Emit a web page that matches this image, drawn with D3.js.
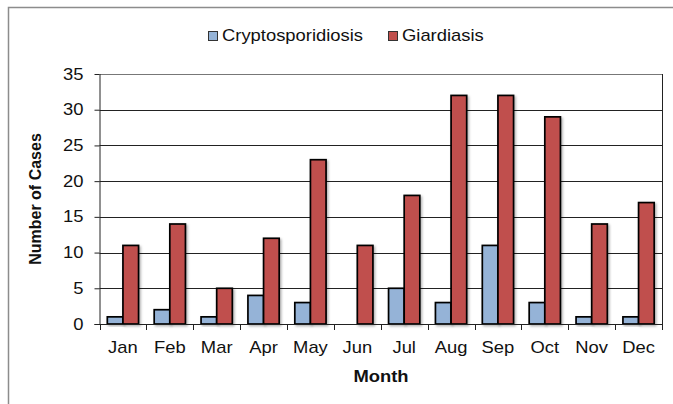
<!DOCTYPE html>
<html><head><meta charset="utf-8">
<script src="https://cdn.jsdelivr.net/npm/d3@7"></script>
<style>body{margin:0;background:#fff}svg{display:block;font-family:"Liberation Sans",Arial,sans-serif}</style>
</head><body><svg id="c" width="673" height="404"></svg>
<script>
const months = ["Jan","Feb","Mar","Apr","May","Jun","Jul","Aug","Sep","Oct","Nov","Dec"];
const seriesNames = ["Cryptosporidiosis","Giardiasis"];
const crypto = [1,2,1,4,3,0,5,3,11,3,1,1];
const giardia = [11,14,5,12,23,11,18,32,32,29,14,17];
const yTicks = [0,5,10,15,20,25,30,35];
const colors = ["#95B3D7","#C0504D"];
const SX = 1.15;

const svg = d3.select("#c");
const defs = svg.append("defs");
const f = defs.append("filter").attr("id","sh").attr("x","-20%").attr("y","-20%").attr("width","150%").attr("height","150%");
f.append("feDropShadow").attr("dx",1.5).attr("dy",1.5).attr("stdDeviation",1.2).attr("flood-color","#000").attr("flood-opacity",0.3);

// outer frame
svg.append("path").attr("d","M8.5,404 V7.5 H673").attr("fill","none").attr("stroke","#8c8c8c").attr("stroke-width",1.5);

const L=99.5, R=662, T=74, B=324;
const x = d3.scaleBand().domain(months).range([L,R]).paddingInner(1/3).paddingOuter(1/6);
const xs = d3.scaleBand().domain(seriesNames).range([0,x.bandwidth()]);
const y = d3.scaleLinear().domain([0,35]).range([B,T]);

// gridlines
svg.append("g").selectAll("line").data(yTicks.filter(d=>d>0)).join("line")
  .attr("x1",L).attr("x2",R).attr("y1",d=>Math.round(y(d))+0.5).attr("y2",d=>Math.round(y(d))+0.5)
  .attr("stroke",d=>d===35?"#777":"#222").attr("stroke-width",1);
// right border
svg.append("line").attr("x1",R+0.5).attr("x2",R+0.5).attr("y1",T).attr("y2",B+5).attr("stroke","#222");

// y axis
const ya = svg.append("g").attr("transform",`translate(${L},0)`)
  .call(d3.axisLeft(y).tickValues(yTicks).tickSize(5).tickPadding(10));
ya.select(".domain").attr("stroke","#222").attr("d",`M0.5,${T}V${B}`);
ya.selectAll(".tick line").attr("stroke","#222");
ya.selectAll("text").attr("font-size",16).attr("fill","#111").attr("font-family","Liberation Sans, Arial, sans-serif")
  .attr("x",-16/SX).attr("transform",`scale(${SX},1)`);

// bars
const data = months.map((m,i)=>({m, vals:[crypto[i],giardia[i]]}));
const gg = svg.append("g").selectAll("g").data(data).join("g").attr("transform",d=>`translate(${x(d.m)},0)`);
gg.selectAll("rect").data(d=>d.vals.map((v,k)=>({v,s:seriesNames[k],k})).filter(o=>o.v>0)).join("rect")
  .attr("x",o=>xs(o.s)).attr("width",xs.bandwidth())
  .attr("y",o=>y(o.v)).attr("height",o=>y(0)-y(o.v))
  .attr("fill",o=>colors[o.k]).attr("stroke","#000").attr("stroke-width",1.7).attr("filter","url(#sh)");

// x axis
const step = x.step();
const xa = svg.append("g").attr("transform",`translate(0,${B})`);
xa.append("line").attr("x1",L-5).attr("x2",R).attr("y1",0.5).attr("y2",0.5).attr("stroke","#222");
xa.selectAll("line.t").data(d3.range(13)).join("line").attr("class","t")
  .attr("x1",i=>Math.round(L+i*step)+0.5).attr("x2",i=>Math.round(L+i*step)+0.5).attr("y1",0).attr("y2",6).attr("stroke","#222");
xa.selectAll("text").data(months).join("text")
  .attr("transform",m=>`translate(${x(m)+x.bandwidth()/2},29) scale(${SX},1)`).attr("text-anchor","middle")
  .attr("font-size",16).attr("fill","#111").text(m=>m);

// axis titles
svg.append("text").attr("transform",`translate(381,382) scale(${SX},1)`).attr("text-anchor","middle").attr("font-size",16).attr("font-weight","bold").attr("fill","#111").text("Month");
svg.append("text").attr("transform","translate(41,199) rotate(-90)").attr("text-anchor","middle").attr("font-size",16).attr("font-weight","bold").attr("fill","#111").text("Number of Cases");

// legend
const leg = svg.append("g");
const lx=[208,388];
seriesNames.forEach((s,k)=>{
  leg.append("rect").attr("x",lx[k]+0.5).attr("y",31.5).attr("width",9).attr("height",9).attr("fill",colors[k]).attr("stroke","#333").attr("stroke-width",1);
  leg.append("text").attr("transform",`translate(${lx[k]+14},41) scale(${SX},1)`).attr("font-size",16).attr("fill","#111").text(s);
});
</script></body></html>
